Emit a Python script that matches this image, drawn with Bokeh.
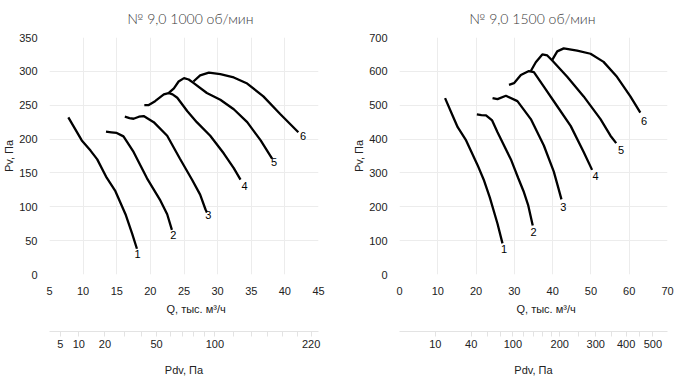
import math
from bokeh.plotting import figure
from bokeh.models import FixedTicker, Title, CustomJSTickFormatter, Range1d
from bokeh.layouts import row, column
from bokeh.embed import file_html
from bokeh.resources import INLINE
from bokeh.core.properties import value

# ---------------- data ----------------
titles = ["№ 9,0 1000 об/мин", "№ 9,0 1500 об/мин"]
q_label = "Q, тыс. м³/ч"
pv_label = "Pv, Па"
pdv_label = "Pdv, Па"
curve_names = ["1", "2", "3", "4", "5", "6"]

# Q (тыс. м³/ч) per sqrt(Pdv, Па) for fan size 9,0
q_per_sqrt_pdv = 2.96

# 1000 об/мин
x_ticks_1000 = [5, 10, 15, 20, 25, 30, 35, 40, 45]
y_ticks_1000 = [0, 50, 100, 150, 200, 250, 300, 350]
pdv_major_1000 = [5, 10, 20, 50, 100, 220]
pdv_minor_1000 = [30, 40, 60, 70, 80, 90, 120, 140, 160, 180, 200]

q1_1000 = [7.8, 9.8, 11.1, 12.1, 13.5, 14.8, 16.3, 17.3, 18.0]
pv1_1000 = [232, 198, 183, 170, 143, 123, 89, 60, 38]
q2_1000 = [13.4, 14.2, 15.0, 16.0, 17.5, 19.5, 21.5, 22.5, 23.2]
pv2_1000 = [211, 210, 209, 204, 181, 142, 109, 89, 66]
q3_1000 = [16.2, 16.9, 17.5, 18.3, 19.0, 20.5, 22.5, 24.4, 26.2, 27.4, 28.2, 28.4]
pv3_1000 = [233, 231, 230, 233, 234, 225, 205, 171, 140, 118, 96, 92]
q4_1000 = [19.1, 19.7, 20.7, 22.0, 22.7, 23.3, 24.0, 25.5, 26.9, 28.9, 30.9, 32.4, 33.4]
pv4_1000 = [250, 250, 256, 266, 268, 266, 261, 241, 225, 205, 179, 157, 140]
q5_1000 = [22.7, 23.5, 24.2, 25.0, 25.7, 26.4, 28.4, 30.4, 32.4, 34.4, 36.4, 38.1]
pv5_1000 = [268, 275, 285, 290, 288, 283, 268, 258, 244, 225, 198, 171]
q6_1000 = [26.4, 27.4, 28.7, 30.4, 32.4, 34.4, 36.8, 39.3, 42.0]
pv6_1000 = [285, 294, 298, 296, 291, 282, 263, 237, 210]
label_q_1000 = [18.1, 23.4, 28.6, 34.0, 38.4, 42.7]
label_pv_1000 = [31, 58, 88, 130, 166, 204]

# 1500 об/мин
x_ticks_1500 = [0, 10, 20, 30, 40, 50, 60, 70]
y_ticks_1500 = [0, 100, 200, 300, 400, 500, 600, 700]
pdv_major_1500 = [10, 40, 100, 200, 300, 400, 500]
pdv_minor_1500 = [60, 80, 120, 140, 160, 180, 250, 350, 450]

q1_1500 = [11.9, 14.0, 15.2, 17.4, 20.4, 22.0, 23.6, 25.6, 26.9]
pv1_1500 = [521, 466, 435, 396, 323, 280, 227, 150, 92]
q2_1500 = [20.2, 21.4, 22.6, 24.2, 25.6, 29.1, 31.0, 32.4, 33.6, 34.8]
pv2_1500 = [473, 471, 470, 455, 420, 340, 285, 246, 205, 145]
q3_1500 = [24.3, 25.6, 27.8, 30.8, 34.3, 37.7, 40.3, 41.5, 42.3]
pv3_1500 = [521, 518, 528, 512, 459, 381, 304, 255, 222]
q4_1500 = [28.6, 29.9, 31.7, 33.8, 35.1, 37.7, 41.2, 44.7, 48.1, 50.3]
pv4_1500 = [560, 565, 589, 601, 598, 555, 497, 439, 362, 309]
q5_1500 = [34.3, 35.6, 37.3, 38.6, 39.9, 43.8, 48.1, 52.5, 55.1, 56.6]
pv5_1500 = [601, 627, 650, 647, 632, 584, 526, 459, 410, 388]
q6_1500 = [39.9, 41.2, 42.9, 46.4, 49.9, 53.3, 56.8, 60.3, 62.9]
pv6_1500 = [634, 659, 668, 661, 652, 628, 584, 526, 478]
label_q_1500 = [27.3, 35.0, 42.8, 51.2, 57.9, 63.9]
label_pv_1500 = [74, 125, 198, 290, 367, 454]

GRID = "#ececec"
TXT = "#222222"
SANS = "Liberation Sans"


def make_chart(title, title_offset, xr_vals, yr_vals, x_ticks, y_ticks,
               qs, pvs, lab_q, lab_pv, pdv_major, pdv_minor, b_left, b_right):
    xr = Range1d(*xr_vals)
    yr = Range1d(*yr_vals)
    p = figure(width=350, height=322, x_range=xr, y_range=yr,
               output_backend="svg", toolbar_location=None,
               min_border_left=b_left, min_border_right=b_right,
               min_border_top=37, min_border_bottom=44, title=title)
    p.outline_line_color = None
    p.background_fill_color = "white"
    p.border_fill_color = "white"

    p.title.align = "left"
    p.title.offset = title_offset
    p.title.vertical_align = "top"
    p.title.standoff = 17
    p.title.text_font = "Lato Light"
    p.title.text_font_size = "14px"
    p.title.text_font_style = "normal"
    p.title.text_color = "#3a3a3a"

    for q, pv in zip(qs, pvs):
        p.line(q, pv, line_color="black", line_width=2.3)
    p.text(x=lab_q, y=lab_pv, text=curve_names, text_font=value(SANS),
           text_font_size=value("11px"), text_color="black",
           text_align="center", text_baseline="middle")

    p.xaxis.ticker = FixedTicker(ticks=x_ticks)
    p.yaxis.ticker = FixedTicker(ticks=y_ticks)
    p.xgrid.ticker = FixedTicker(ticks=x_ticks)
    p.ygrid.ticker = FixedTicker(ticks=y_ticks)
    p.grid.grid_line_color = GRID
    p.grid.grid_line_width = 1

    for ax in (p.xaxis[0], p.yaxis[0]):
        ax.axis_line_color = None
        ax.major_tick_line_color = None
        ax.minor_tick_line_color = None
        ax.major_label_text_font = SANS
        ax.major_label_text_font_size = "11px"
        ax.major_label_text_color = TXT
        ax.major_label_standoff = 6
    p.yaxis.axis_label = pv_label
    p.yaxis.axis_label_standoff = 1
    p.yaxis.axis_label_text_font = SANS
    p.yaxis.axis_label_text_font_size = "11px"
    p.yaxis.axis_label_text_font_style = "normal"
    p.yaxis.axis_label_text_color = TXT

    p.add_layout(Title(text=q_label, align="left", offset=117, vertical_align="top",
                       standoff=11, text_font=SANS, text_font_size="11px",
                       text_font_style="normal", text_color=TXT), "below")

    # Pdv scale (dynamic pressure), Q = k * sqrt(Pdv)
    d = figure(width=350, height=60, x_range=xr, y_range=Range1d(0, 1),
               output_backend="svg", toolbar_location=None,
               min_border_left=b_left, min_border_right=b_right,
               min_border_top=8, min_border_bottom=51, y_axis_location=None)
    d.outline_line_color = None
    d.grid.visible = False
    ax = d.xaxis[0]
    ax.ticker = FixedTicker(ticks=[q_per_sqrt_pdv * math.sqrt(v) for v in pdv_major],
                            minor_ticks=[q_per_sqrt_pdv * math.sqrt(v) for v in pdv_minor])
    ax.formatter = CustomJSTickFormatter(args=dict(k=q_per_sqrt_pdv),
                                         code="return String(Math.round((tick / k) * (tick / k)));")
    ax.axis_line_color = "#e3e3e3"
    ax.major_tick_line_color = "#e3e3e3"
    ax.minor_tick_line_color = "#e3e3e3"
    ax.major_tick_in = 0
    ax.major_tick_out = 5
    ax.minor_tick_in = 0
    ax.minor_tick_out = 5
    ax.major_label_standoff = 3
    ax.major_label_text_font = SANS
    ax.major_label_text_font_size = "11px"
    ax.major_label_text_color = TXT
    ax.axis_label = pdv_label
    ax.axis_label_standoff = 13
    ax.axis_label_text_font = SANS
    ax.axis_label_text_font_size = "11px"
    ax.axis_label_text_font_style = "normal"
    ax.axis_label_text_color = TXT
    return column(p, d)


left = make_chart(titles[0], 78, (5, 45), (0, 350), x_ticks_1000, y_ticks_1000,
                  [q1_1000, q2_1000, q3_1000, q4_1000, q5_1000, q6_1000],
                  [pv1_1000, pv2_1000, pv3_1000, pv4_1000, pv5_1000, pv6_1000],
                  label_q_1000, label_pv_1000, pdv_major_1000, pdv_minor_1000, 49, 32)
right = make_chart(titles[1], 70, (0, 70), (0, 700), x_ticks_1500, y_ticks_1500,
                   [q1_1500, q2_1500, q3_1500, q4_1500, q5_1500, q6_1500],
                   [pv1_1500, pv2_1500, pv3_1500, pv4_1500, pv5_1500, pv6_1500],
                   label_q_1500, label_pv_1500, pdv_major_1500, pdv_minor_1500, 48, 33)

layout = row(left, right)
open("out.html", "w").write(file_html(layout, INLINE))
